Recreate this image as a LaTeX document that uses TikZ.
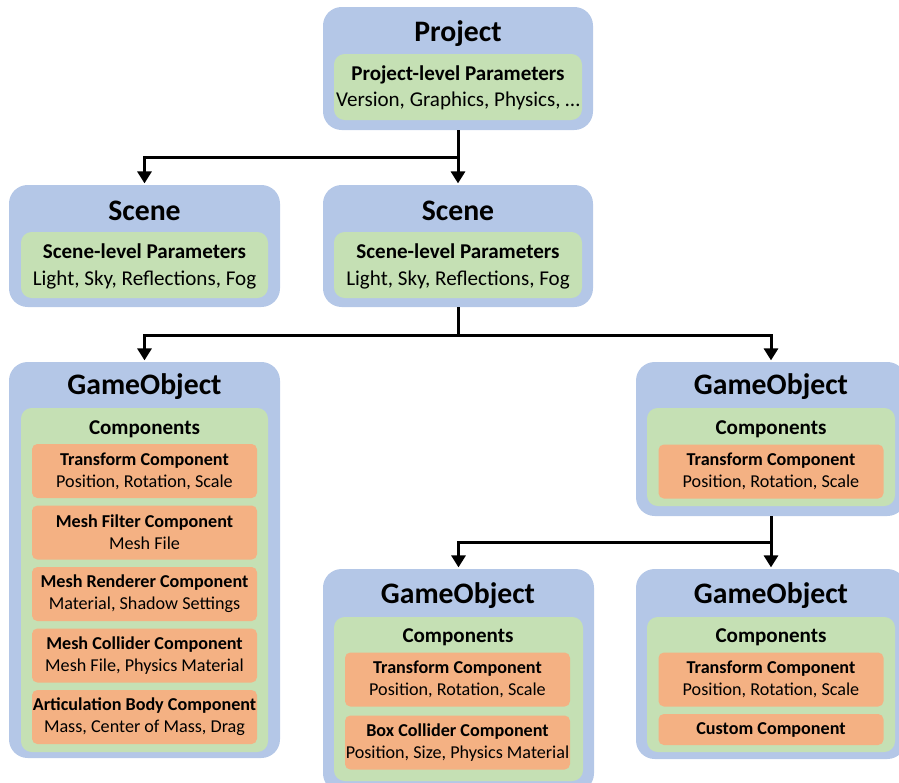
\documentclass[tikz,border=0pt]{standalone}
\usepackage{fontspec}
\setmainfont{Carlito}
\usetikzlibrary{arrows.meta,fit}
\definecolor{boxblue}{RGB}{180,199,231}
\definecolor{boxgreen}{RGB}{197,224,180}
\definecolor{boxorange}{RGB}{244,177,131}
\newcommand\pxu{0.75pt}
\tikzset{
  outer/.style={fill=boxblue, rounded corners=14pt, inner sep=0pt},
  inner/.style={fill=boxgreen, rounded corners=8pt, inner sep=0pt},
  comp/.style={fill=boxorange, rounded corners=4pt, inner sep=0pt, align=center,
    minimum width=225*\pxu, minimum height=54*\pxu, font=\fontsize{13.6}{16.5}\selectfont},
  heading/.style={font=\fontsize{22.3}{26}\selectfont\bfseries},
  subheading/.style={font=\fontsize{15.8}{19}\selectfont\bfseries},
  params/.style={font=\fontsize{15.8}{19}\selectfont},
  link/.style={line width=2.25pt, -{Triangle[width=10.5pt,length=9pt]}, shorten >=1pt},
  trunk/.style={line width=2.25pt}
}
\begin{document}
\begin{tikzpicture}[x=\pxu,y=-\pxu]
    \clip (0,0) rectangle (899,782);
    % project and scenes
    \node[outer, fit={(323,7) (593,130)}] (project) {};
    \node[heading] (projectT) at (458,34) {Project};
    \node[inner, fit={(334,54) (582,120)}] (projectP) {};
    \node[subheading] (projectH) at (458,75) {Project-level Parameters};
    \node[params] (projectL) at (458,101) {Version, Graphics, Physics, …};
    \node[outer, fit={(9,185) (280,307)}] (scene1) {};
    \node[heading] (scene1T) at (144.5,211) {Scene};
    \node[inner, fit={(21,232) (268,298)}] (scene1P) {};
    \node[subheading] (scene1H) at (144.5,251.5) {Scene-level Parameters};
    \node[params] (scene1L) at (144.5,280) {Light, Sky, Reflections, Fog};
    \node[outer, fit={(323,185) (593,307)}] (scene2) {};
    \node[heading] (scene2T) at (458,211) {Scene};
    \node[inner, fit={(334,232) (582,298)}] (scene2P) {};
    \node[subheading] (scene2H) at (458,251.5) {Scene-level Parameters};
    \node[params] (scene2L) at (458,280) {Light, Sky, Reflections, Fog};
    % game objects
    \node[outer, fit={(9,362) (280,758)}] (go1) {};
    \node[heading] (go1T) at (144.5,387) {GameObject};
    \node[inner, fit={(21,408) (268,752)}] (go1C) {};
    \node[subheading] (go1H) at (144.5,429) {Components};
    \foreach \name/\detail [count=\i] in {Transform Component/{Position, Rotation, Scale},
        Mesh Filter Component/Mesh File, Mesh Renderer Component/{Material, Shadow Settings},
        Mesh Collider Component/{Mesh File, Physics Material},
        Articulation Body Component/{Mass, Center of Mass, Drag}}
        \node[comp] (go1c\i) at (144.5,{471+61.5*(\i-1)}) {\textbf{\name}\\\detail};
    \node[outer, fit={(636,362) (906,516)}] (go2) {};
    \node[heading] (go2T) at (771,387) {GameObject};
    \node[inner, fit={(647,408) (895,506)}] (go2C) {};
    \node[subheading] (go2H) at (771,429) {Components};
    \node[comp] (go2c1) at (771,471.5) {\textbf{Transform Component}\\Position, Rotation, Scale};
    \node[outer, fit={(323,569) (594,792)}] (go3) {};
    \node[heading] (go3T) at (458,596) {GameObject};
    \node[inner, fit={(334,617) (583,781)}] (go3C) {};
    \node[subheading] (go3H) at (458,637) {Components};
    \node[comp] (go3c1) at (457.5,679.5) {\textbf{Transform Component}\\Position, Rotation, Scale};
    \node[comp] (go3c2) at (457.5,742.5) {\textbf{Box Collider Component}\\Position, Size, Physics Material};
    \node[outer, fit={(636,569) (906,759)}] (go4) {};
    \node[heading] (go4T) at (771,596) {GameObject};
    \node[inner, fit={(647,617) (895,752)}] (go4C) {};
    \node[subheading] (go4H) at (771,637) {Components};
    \node[comp] (go4c1) at (771,679.5) {\textbf{Transform Component}\\Position, Rotation, Scale};
    \node[comp, minimum height=31*\pxu] (go4c2) at (771,729.5) {\textbf{Custom Component}};
    % connectors
    \coordinate (j1) at (458,157);
    \coordinate (j2) at (458,335);
    \coordinate (j3) at (771,542);
    \draw[link] (project.south) -- (scene2.north);
    \draw[link] (j1) -| (scene1.north);
    \draw[trunk] (scene2.south) -- (j2);
    \draw[link] (j2) -| (go1.north);
    \draw[link] (j2) -| (go2.north);
    \draw[link] (go2.south) -- (go4.north);
    \draw[link] (j3) -| (go3.north);
\end{tikzpicture}
\end{document}
